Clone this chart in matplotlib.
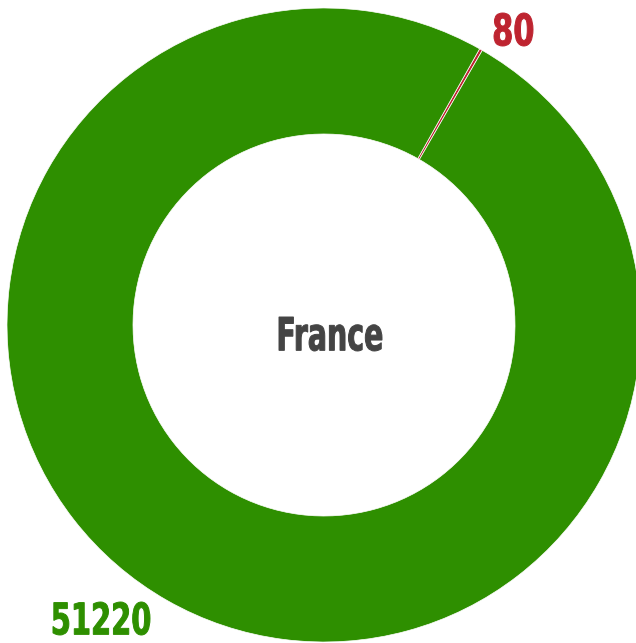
import matplotlib
matplotlib.use("Agg")
import matplotlib.pyplot as plt
from matplotlib.textpath import TextPath
from matplotlib.patches import PathPatch
from matplotlib.font_manager import FontProperties
from matplotlib.transforms import Affine2D

# data
labels = ["80", "51220"]
values = [80, 51220]
colors = ["#be2430", "#2e8f00"]
center_label = "France"

W, H = 636, 643
fig = plt.figure(figsize=(W / 100, H / 100), dpi=100)
ax = fig.add_axes([0, 0, 1, 1])

cx, cy = 324, H - 325
wedges, _ = ax.pie(values, colors=colors, startangle=60.6, counterclock=False,
                   radius=317, center=(cx, cy), frame=True,
                   wedgeprops=dict(width=126, edgecolor='white', linewidth=0.5))
ax.set_xlim(0, W)
ax.set_ylim(0, H)
ax.set_aspect('equal')
ax.axis('off')

# narrow bold font: squeeze condensed DejaVu into the box the text takes
fp = FontProperties(family='DejaVu Sans', stretch='condensed', weight='bold')


def narrow_text(s, x0, x1, top, bottom, color):
    tp = TextPath((0, 0), s, size=40, prop=fp)
    bb = tp.get_extents()
    sx = (x1 - x0) / bb.width
    sy = (bottom - top) / bb.height
    tr = Affine2D().translate(-bb.x0, -bb.y0).scale(sx, sy).translate(x0, H - bottom)
    ax.add_patch(PathPatch(tr.transform_path(tp), facecolor=color,
                           edgecolor=color, linewidth=0.7))


narrow_text(labels[0], 494, 533, 13, 46, colors[0])
narrow_text(labels[1], 53, 150, 602, 635, colors[1])
narrow_text(center_label, 279, 382, 317, 351, '#444444')

fig.savefig("out.png", dpi=100)
